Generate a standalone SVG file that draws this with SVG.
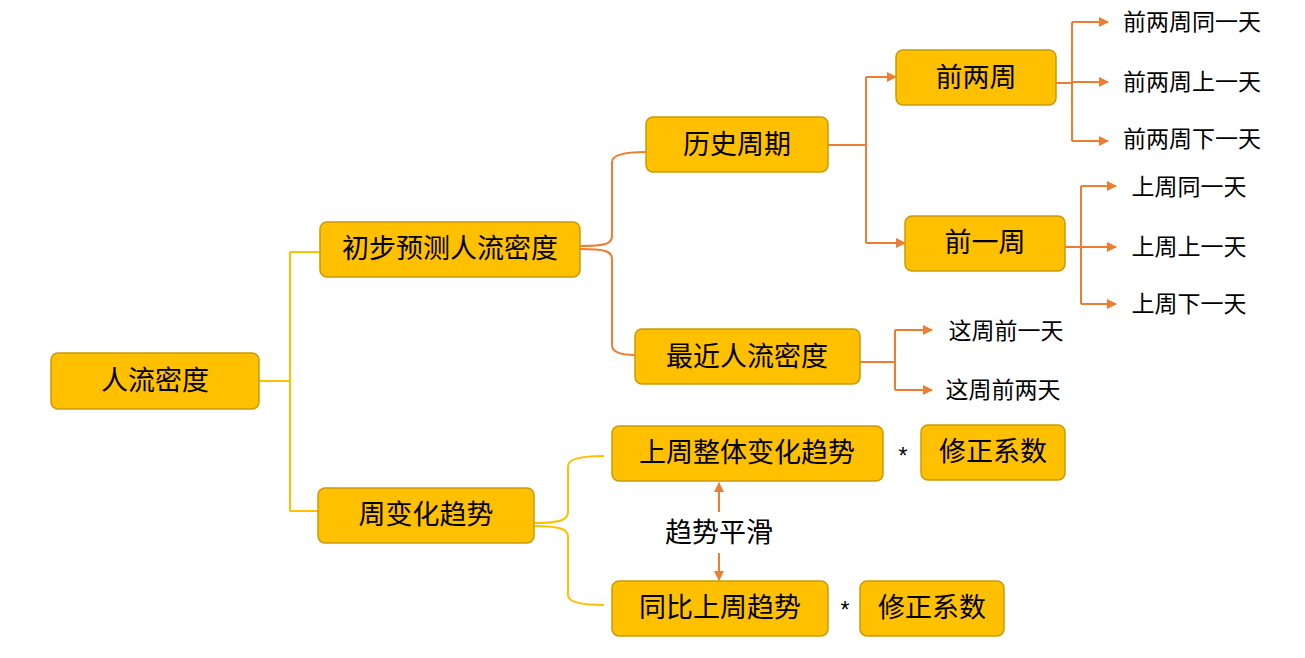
<svg xmlns="http://www.w3.org/2000/svg" width="1305" height="658" viewBox="0 0 1305 658">
<defs>
<style>
.n{fill:#FFC000;stroke:#C99A06;stroke-width:1.5}
.t{font-family:"Liberation Sans","Noto Sans CJK SC",sans-serif;fill:#000;text-anchor:middle;dominant-baseline:central}
.b{font-size:27px}.s{font-size:23px}
.o{fill:none;stroke:#ED7D31;stroke-width:2}
.y{fill:none;stroke:#FFC000;stroke-width:2}
</style>
<marker id="a" viewBox="0 0 10 10" refX="9" refY="5" markerWidth="5" markerHeight="5" orient="auto-start-reverse"><path d="M0,0L10,5L0,10z" fill="#ED7D31"/></marker>
</defs>
<rect width="1305" height="658" fill="#fff"/>
<g id="connectors">
<path class="y" d="M259,381H290M290,252V511M290,252H320M290,511H318"/>
<path class="o" d="M580,246C605,246 612,244 612,236V162Q612,152 646,152"/>
<path class="o" d="M580,249C605,249 612,251 612,259V345Q612,355 635,355"/>
<path class="o" d="M828,145H866M866,77V243"/>
<path class="o" marker-end="url(#a)" d="M866,77H896"/>
<path class="o" marker-end="url(#a)" d="M866,243H905"/>
<path class="o" d="M1056,83H1072M1072,22V141"/>
<path class="o" marker-end="url(#a)" d="M1072,22H1108"/>
<path class="o" marker-end="url(#a)" d="M1072,82H1108"/>
<path class="o" marker-end="url(#a)" d="M1072,141H1108"/>
<path class="o" d="M1065,247H1081M1081,186V304"/>
<path class="o" marker-end="url(#a)" d="M1081,186H1116"/>
<path class="o" marker-end="url(#a)" d="M1081,247H1116"/>
<path class="o" marker-end="url(#a)" d="M1081,304H1116"/>
<path class="o" d="M860,362H895M895,330V390"/>
<path class="o" marker-end="url(#a)" d="M895,330H932"/>
<path class="o" marker-end="url(#a)" d="M895,390H932"/>
<path class="y" d="M534,523C560,523 568,520 568,512V466Q568,456 604,456"/>
<path class="y" d="M534,526C560,526 568,529 568,537V595Q568,605 604,605"/>
<path class="o" marker-end="url(#a)" d="M719,512V483"/>
<path class="o" marker-end="url(#a)" d="M719,553V580"/>
</g>
<g id="n1"><rect class="n" x="51" y="353" width="208" height="56" rx="7"/><text class="t b" x="155" y="381">人流密度</text></g>
<g id="n2"><rect class="n" x="320" y="222" width="260" height="55" rx="7"/><text class="t b" x="450" y="249">初步预测人流密度</text></g>
<g id="n3"><rect class="n" x="318" y="488" width="216" height="55" rx="7"/><text class="t b" x="426" y="515">周变化趋势</text></g>
<g id="n4"><rect class="n" x="646" y="117" width="182" height="55" rx="7"/><text class="t b" x="737" y="145">历史周期</text></g>
<g id="n5"><rect class="n" x="635" y="329" width="225" height="55" rx="7"/><text class="t b" x="747" y="357">最近人流密度</text></g>
<g id="n6"><rect class="n" x="896" y="50" width="160" height="55" rx="7"/><text class="t b" x="976" y="78">前两周</text></g>
<g id="n7"><rect class="n" x="905" y="216" width="160" height="55" rx="7"/><text class="t b" x="985" y="243">前一周</text></g>
<g id="n8"><rect class="n" x="612" y="426" width="271" height="55" rx="7"/><text class="t b" x="747" y="453">上周整体变化趋势</text></g>
<g id="n9"><rect class="n" x="921" y="425" width="144" height="55" rx="7"/><text class="t b" x="993" y="452">修正系数</text></g>
<g id="n10"><rect class="n" x="612" y="581" width="216" height="55" rx="7"/><text class="t b" x="720" y="608">同比上周趋势</text></g>
<g id="n11"><rect class="n" x="860" y="581" width="144" height="55" rx="7"/><text class="t b" x="932" y="608">修正系数</text></g>
<g id="labels">
<text class="t s" x="1192" y="22">前两周同一天</text>
<text class="t s" x="1192" y="82">前两周上一天</text>
<text class="t s" x="1192" y="139">前两周下一天</text>
<text class="t s" x="1189" y="187">上周同一天</text>
<text class="t s" x="1189" y="247">上周上一天</text>
<text class="t s" x="1189" y="304">上周下一天</text>
<text class="t s" x="1006" y="331">这周前一天</text>
<text class="t s" x="1003" y="390">这周前两天</text>
<text class="t b" x="719" y="533">趋势平滑</text>
<text class="t s" x="903" y="456">*</text>
<text class="t s" x="845" y="610">*</text>
</g>
</svg>
